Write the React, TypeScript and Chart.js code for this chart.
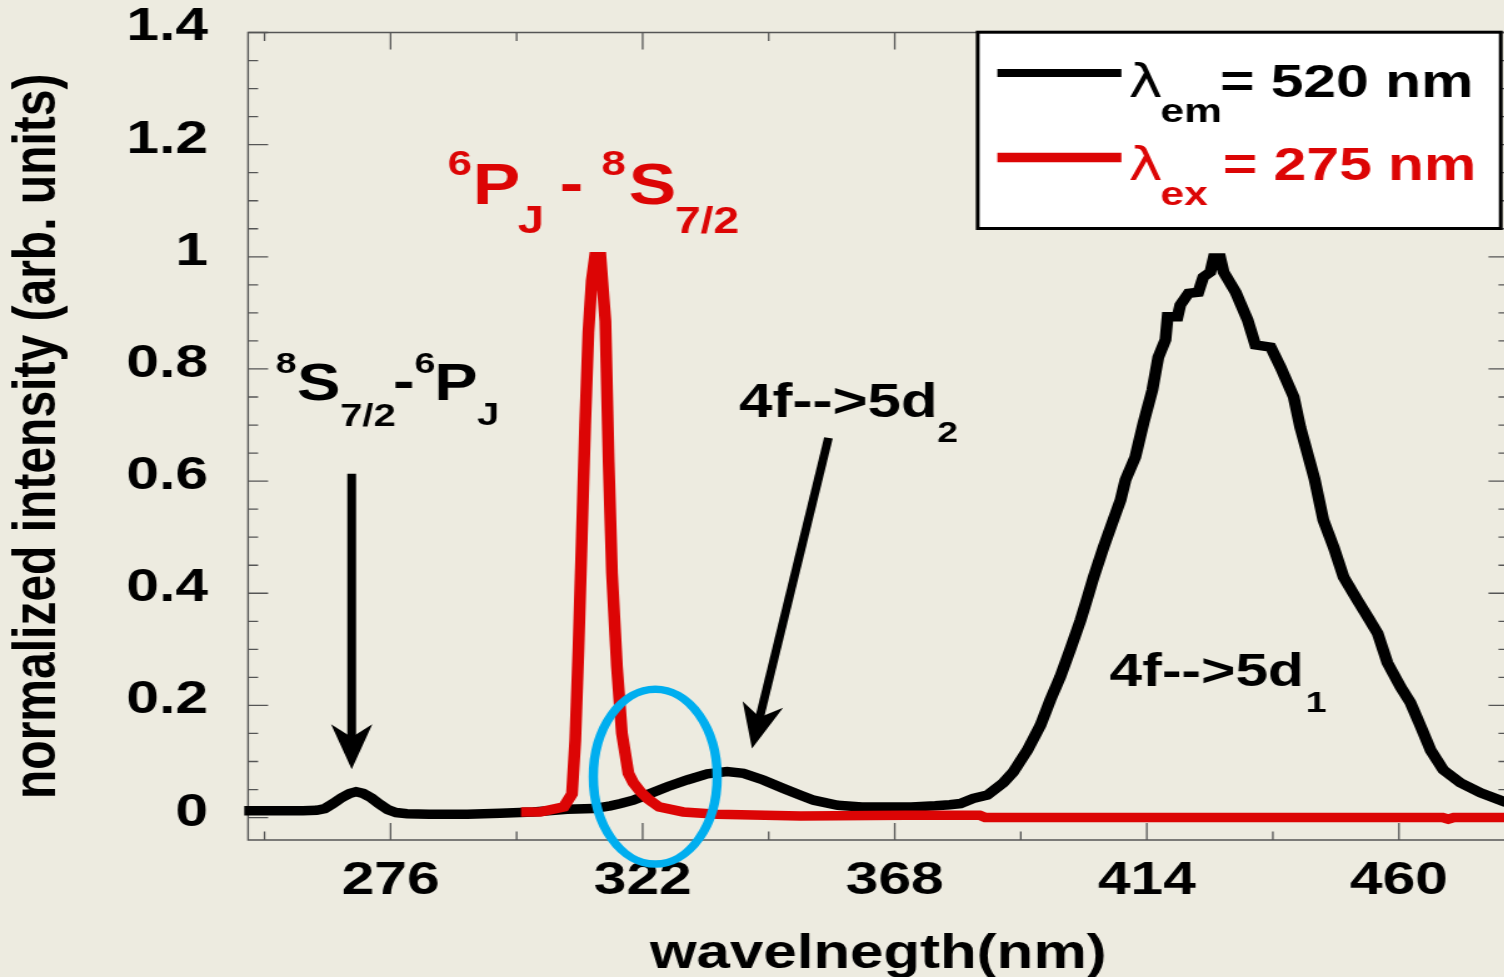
import React, { useEffect, useRef } from 'react';
import { Chart, registerables } from 'chart.js';

Chart.register(...registerables);

const FONT = '"Liberation Sans", Arial, Helvetica, sans-serif';
const STRETCH = 1.25; // the reference is horizontally stretched
const CANVAS_W = 1210;
const CANVAS_H = 985;

const BG = '#EDEBE0';
const BLACK = '#000000';
const RED = '#DC0505';
const BLUE = '#00AEEF';

// λem = 520 nm (black) spectrum
const emWavelength = [249.3, 255, 260, 262.5, 264, 265.5, 267, 268.5, 269.7, 271, 272.5, 274, 275.5, 277, 279, 283, 290, 296, 302, 308.2, 313, 316.1, 318, 320.3, 323.4, 326.5, 330.1, 333.8, 337.4, 340.4, 344, 347.7, 350.8, 353.2, 357.6, 362, 366.5, 371, 375.4, 378, 380, 382.3, 384.9, 387.8, 389.6, 392.2, 394.6, 396.4, 398.2, 400, 401.9, 403.2, 404.3, 406.1, 407.9, 409.2, 410.1, 411.9, 413.4, 415, 416.1, 417.4, 417.8, 419.6, 420.1, 421.6, 423.4, 424.3, 425.6, 426.2, 427.4, 428, 430.2, 432.4, 433.8, 436.6, 438.4, 440.8, 442, 443.5, 444.6, 446.2, 448.1, 449.9, 452.4, 454.3, 456.1, 457.9, 460.3, 462.1, 464, 465.8, 468.1, 471.2, 474.9, 479.3, 481];
const emIntensity = [0.012, 0.012, 0.012, 0.013, 0.016, 0.025, 0.035, 0.043, 0.046, 0.043, 0.035, 0.024, 0.014, 0.009, 0.007, 0.006, 0.006, 0.0075, 0.010, 0.015, 0.016, 0.021, 0.025, 0.031, 0.043, 0.055, 0.067, 0.078, 0.082, 0.079, 0.067, 0.052, 0.040, 0.031, 0.022, 0.019, 0.019, 0.019, 0.021, 0.023, 0.025, 0.034, 0.040, 0.062, 0.081, 0.120, 0.165, 0.210, 0.251, 0.299, 0.352, 0.393, 0.429, 0.482, 0.531, 0.566, 0.602, 0.643, 0.704, 0.762, 0.821, 0.852, 0.893, 0.893, 0.914, 0.935, 0.937, 0.964, 0.973, 0.998, 0.998, 0.973, 0.937, 0.887, 0.843, 0.839, 0.803, 0.750, 0.696, 0.643, 0.604, 0.531, 0.482, 0.429, 0.388, 0.358, 0.329, 0.276, 0.233, 0.205, 0.162, 0.120, 0.085, 0.062, 0.044, 0.028, 0.025];

// λex = 275 nm (red) spectrum
const exWavelength = [299.8, 303.3, 307.6, 309.1, 309.7, 310.3, 310.9, 311.5, 312.1, 312.7, 313.3, 314.3, 315.2, 315.8, 316.4, 317.3, 318.2, 319.4, 320.3, 321.6, 323, 325, 329.4, 335.6, 350.8, 370, 383.5, 384.5, 420, 468, 469, 470, 481];
const exIntensity = [0.010, 0.010, 0.019, 0.042, 0.138, 0.304, 0.502, 0.700, 0.865, 0.957, 1.0, 1.0, 0.885, 0.634, 0.436, 0.270, 0.151, 0.079, 0.062, 0.046, 0.033, 0.019, 0.010, 0.006, 0.003, 0.004, 0.004, 0.0, 0.0, 0.0, -0.003, 0.0, 0.0];

const xTickValues = [276, 322, 368, 414, 460];
const xTickLabels = ['276', '322', '368', '414', '460'];
const xMinorTicks = [253, 299, 345, 391, 437];
const yTickValues = [0, 0.2, 0.4, 0.6, 0.8, 1, 1.2, 1.4];
const yTickLabels = ['0', '0.2', '0.4', '0.6', '0.8', '1', '1.2', '1.4'];
const yMinorTicks = [0.05, 0.1, 0.15, 0.25, 0.3, 0.35, 0.45, 0.5, 0.55, 0.65, 0.7, 0.75, 0.85, 0.9, 0.95, 1.05, 1.1, 1.15, 1.25, 1.3, 1.35];

const seriesLabels = ['λem = 520 nm', 'λex = 275 nm'];
const legendSymbols = ['λ', 'λ'];
const legendSubs = ['em', 'ex'];
const legendRests = ['= 520 nm', '= 275 nm'];

const xTitle = 'wavelnegth(nm)';
const yTitle = 'normalized intensity (arb. units)';

type Piece = { t: string; size: number; dx: number; dy: number };
type Label = { at: [number, number]; color: string; pieces: Piece[] };

const annotationLabels: Label[] = [
  {
    at: [291.0, 1.094], color: RED, pieces: [
      { t: '6', size: 35, dx: -20.2, dy: -29 },
      { t: 'P', size: 57, dx: 0, dy: 0 },
      { t: 'J', size: 38, dx: 35.9, dy: 29 },
      { t: '-', size: 57, dx: 69.4, dy: -1 },
      { t: '8', size: 35, dx: 103, dy: -29 },
      { t: 'S', size: 57, dx: 124.6, dy: 0 },
      { t: '7/2', size: 37, dx: 161.6, dy: 29 },
    ],
  },
  {
    at: [258.9, 0.7446], color: BLACK, pieces: [
      { t: '8', size: 30, dx: -17, dy: -27 },
      { t: 'S', size: 52, dx: 0, dy: 0 },
      { t: '7/2', size: 32, dx: 34.6, dy: 26 },
      { t: '-', size: 52, dx: 76.8, dy: -2 },
      { t: '6', size: 30, dx: 94.2, dy: -27 },
      { t: 'P', size: 52, dx: 109.9, dy: 0 },
      { t: 'J', size: 32, dx: 144.2, dy: 25 },
    ],
  },
  {
    at: [339.6, 0.714], color: BLACK, pieces: [
      { t: '4f-->5d', size: 48, dx: 0, dy: 0 },
      { t: '2', size: 30, dx: 158.5, dy: 25 },
    ],
  },
  {
    at: [407.2, 0.2345], color: BLACK, pieces: [
      { t: '4f-->5d', size: 47, dx: 0, dy: 0 },
      { t: '1', size: 30, dx: 156.8, dy: 26 },
    ],
  },
];

const arrowFrom: [number, number][] = [[268.9, 0.613], [355.9, 0.677]];
const arrowTo: [number, number][] = [[268.9, 0.086], [341.95, 0.123]];
const ellipseCenter: [number, number] = [324.3, 0.073];
const ellipseRadius: [number, number] = [11.3, 0.156];

function drawPieces(ctx: CanvasRenderingContext2D, ax: number, ay: number, pieces: Piece[], color: string) {
  ctx.fillStyle = color;
  ctx.textAlign = 'left';
  ctx.textBaseline = 'alphabetic';
  for (const p of pieces) {
    ctx.font = `bold ${p.size}px ${FONT}`;
    ctx.fillText(p.t, ax + p.dx, ay + p.dy);
  }
}

function drawArrow(ctx: CanvasRenderingContext2D, x0: number, y0: number, x1: number, y1: number) {
  const dx = x1 - x0, dy = y1 - y0;
  const len = Math.hypot(dx, dy);
  const ux = dx / len, uy = dy / len;
  const nx = -uy, ny = ux;
  const L = 45, W = 16.5, N = 13;
  const bx = x1 - ux * L, by = y1 - uy * L;
  const qx = x1 - ux * (L - N), qy = y1 - uy * (L - N);
  ctx.strokeStyle = BLACK;
  ctx.lineWidth = 7;
  ctx.lineCap = 'butt';
  ctx.beginPath();
  ctx.moveTo(x0, y0);
  ctx.lineTo(qx + ux * 2, qy + uy * 2);
  ctx.stroke();
  ctx.fillStyle = BLACK;
  ctx.beginPath();
  ctx.moveTo(x1, y1);
  ctx.lineTo(bx + nx * W, by + ny * W);
  ctx.lineTo(qx, qy);
  ctx.lineTo(bx - nx * W, by - ny * W);
  ctx.closePath();
  ctx.fill();
}

const framePlugin = {
  id: 'frame',
  beforeDatasetsDraw(chart: any) {
    const { ctx, chartArea } = chart;
    const { left, right, top, bottom } = chartArea;
    const xs = chart.scales.x, ys = chart.scales.y;
    ctx.save();
    ctx.strokeStyle = '#555555';
    ctx.lineWidth = 1.4;
    ctx.beginPath();
    ctx.rect(left, top, right - left, bottom - top);
    ctx.stroke();
    ctx.lineWidth = 1.3;
    ctx.beginPath();
    for (const v of yTickValues) {
      const p = ys.getPixelForValue(v);
      ctx.moveTo(left, p); ctx.lineTo(left + 16, p);
      ctx.moveTo(right, p); ctx.lineTo(right - 16, p);
    }
    for (const v of yMinorTicks) {
      const p = ys.getPixelForValue(v);
      ctx.moveTo(left, p); ctx.lineTo(left + 8, p);
      ctx.moveTo(right, p); ctx.lineTo(right - 8, p);
    }
    for (const v of xTickValues) {
      const p = xs.getPixelForValue(v);
      ctx.moveTo(p, bottom); ctx.lineTo(p, bottom - 17);
      ctx.moveTo(p, top); ctx.lineTo(p, top + 17);
    }
    for (const v of xMinorTicks) {
      const p = xs.getPixelForValue(v);
      ctx.moveTo(p, bottom); ctx.lineTo(p, bottom - 8.5);
      ctx.moveTo(p, top); ctx.lineTo(p, top + 8.5);
    }
    ctx.stroke();
    ctx.restore();
  },
};

const annotationPlugin = {
  id: 'annotations',
  afterDatasetsDraw(chart: any) {
    const { ctx } = chart;
    const xs = chart.scales.x, ys = chart.scales.y;
    const px = (v: number) => xs.getPixelForValue(v);
    const py = (v: number) => ys.getPixelForValue(v);
    ctx.save();
    // blue ellipse
    const cx = px(ellipseCenter[0]), cy = py(ellipseCenter[1]);
    const rx = px(ellipseCenter[0] + ellipseRadius[0]) - cx;
    const ry = cy - py(ellipseCenter[1] + ellipseRadius[1]);
    ctx.strokeStyle = BLUE;
    ctx.lineWidth = 7.5;
    ctx.beginPath();
    ctx.ellipse(cx, cy, rx, ry, 0, 0, Math.PI * 2);
    ctx.stroke();
    // arrows
    for (let i = 0; i < arrowFrom.length; i++) {
      drawArrow(ctx, px(arrowFrom[i][0]), py(arrowFrom[i][1]), px(arrowTo[i][0]), py(arrowTo[i][1]));
    }
    // labels
    for (const l of annotationLabels) {
      drawPieces(ctx, px(l.at[0]), py(l.at[1]), l.pieces, l.color);
    }
    ctx.restore();
  },
};

const legendPlugin = {
  id: 'customLegend',
  afterDraw(chart: any) {
    const { ctx } = chart;
    const colors = [BLACK, RED];
    const rowBase = [97, 180];
    const lineY = [73, 157.5];
    const lineW = [8, 9.5];
    ctx.save();
    ctx.fillStyle = '#FFFFFF';
    ctx.fillRect(781.9, 32.2, 1200.2 - 781.9, 228.5 - 32.2);
    ctx.strokeStyle = BLACK;
    ctx.lineWidth = 3;
    ctx.strokeRect(781.9, 32.2, 1200.2 - 781.9, 228.5 - 32.2);
    for (let i = 0; i < seriesLabels.length; i++) {
      ctx.strokeStyle = colors[i];
      ctx.lineWidth = lineW[i];
      ctx.lineCap = 'butt';
      ctx.beginPath();
      ctx.moveTo(797.6, lineY[i]);
      ctx.lineTo(896.8, lineY[i]);
      ctx.stroke();
      ctx.fillStyle = colors[i];
      ctx.textAlign = 'left';
      ctx.textBaseline = 'alphabetic';
      ctx.font = `46px "DejaVu Sans", ${FONT}`;
      ctx.fillText(legendSymbols[i], 902.4, rowBase[i]);
      ctx.font = `bold 34px ${FONT}`;
      ctx.fillText(legendSubs[i], 928, rowBase[i] + 25);
      ctx.font = `bold 47px ${FONT}`;
      ctx.fillText(legendRests[i], i === 0 ? 975.7 : 978.1, rowBase[i]);
    }
    ctx.restore();
  },
};

export default function App() {
  const canvasRef = useRef<HTMLCanvasElement>(null);

  useEffect(() => {
    const canvas = canvasRef.current;
    if (!canvas) return;
    const tickFont = { family: FONT, size: 47, weight: 'bold' as const };
    const titleFont = { family: FONT, size: 48, weight: 'bold' as const };
    const chart = new Chart(canvas, {
      type: 'line',
      data: {
        datasets: [
          {
            label: seriesLabels[0],
            data: emWavelength.map((w, i) => ({ x: w, y: emIntensity[i] })),
            borderColor: BLACK,
            backgroundColor: BLACK,
            borderWidth: 9.5,
            pointRadius: 0,
            tension: 0,
            fill: false,
            clip: false as any,
            order: 2,
          },
          {
            label: seriesLabels[1],
            data: exWavelength.map((w, i) => ({ x: w, y: exIntensity[i] })),
            borderColor: RED,
            backgroundColor: RED,
            borderWidth: 9.5,
            pointRadius: 0,
            tension: 0,
            fill: false,
            clip: false as any,
            order: 1,
          },
        ],
      },
      options: {
        animation: false,
        responsive: false,
        maintainAspectRatio: false,
        devicePixelRatio: 1,
        layout: { padding: { left: 0, right: 3.6, top: 32.5, bottom: 0 } },
        plugins: {
          legend: { display: false },
          tooltip: { enabled: false },
        },
        scales: {
          x: {
            type: 'linear',
            position: 'bottom',
            min: 250,
            max: 480,
            grid: { display: false, drawTicks: false },
            border: { display: false },
            ticks: {
              font: tickFont,
              color: BLACK,
              padding: 13,
              autoSkip: false,
              maxRotation: 0,
              callback: (_v: any, i: number) => xTickLabels[i] ?? '',
            },
            afterBuildTicks: (s: any) => { s.ticks = xTickValues.map((v) => ({ value: v })); },
            afterFit: (s: any) => { s.height = CANVAS_H - 840; s.paddingLeft = 0; s.paddingRight = 0; },
            title: { display: true, text: xTitle, font: titleFont, color: BLACK, padding: { top: 0, bottom: 1.5 } },
          },
          y: {
            type: 'linear',
            min: -0.04,
            max: 1.4,
            grid: { display: false, drawTicks: false },
            border: { display: false },
            ticks: {
              font: tickFont,
              color: BLACK,
              padding: 32,
              labelOffset: -5,
              autoSkip: false,
              callback: (_v: any, i: number) => yTickLabels[i] ?? '',
            },
            afterBuildTicks: (s: any) => { s.ticks = yTickValues.map((v) => ({ value: v })); },
            afterFit: (s: any) => { s.width = 198.4; s.paddingTop = 0; s.paddingBottom = 0; },
            title: { display: true, text: yTitle, font: titleFont, color: BLACK, padding: { top: 1.6, bottom: 0 } },
          },
        },
      },
      plugins: [framePlugin, annotationPlugin, legendPlugin],
    });
    return () => chart.destroy();
  }, []);

  return (
    <div
      style={{
        position: 'fixed',
        left: 0,
        top: 0,
        width: 1504,
        height: 977,
        overflow: 'hidden',
        background: BG,
      }}
    >
      <canvas
        ref={canvasRef}
        width={CANVAS_W}
        height={CANVAS_H}
        style={{ display: 'block', width: `${CANVAS_W * STRETCH}px`, height: `${CANVAS_H}px` }}
      />
    </div>
  );
}
